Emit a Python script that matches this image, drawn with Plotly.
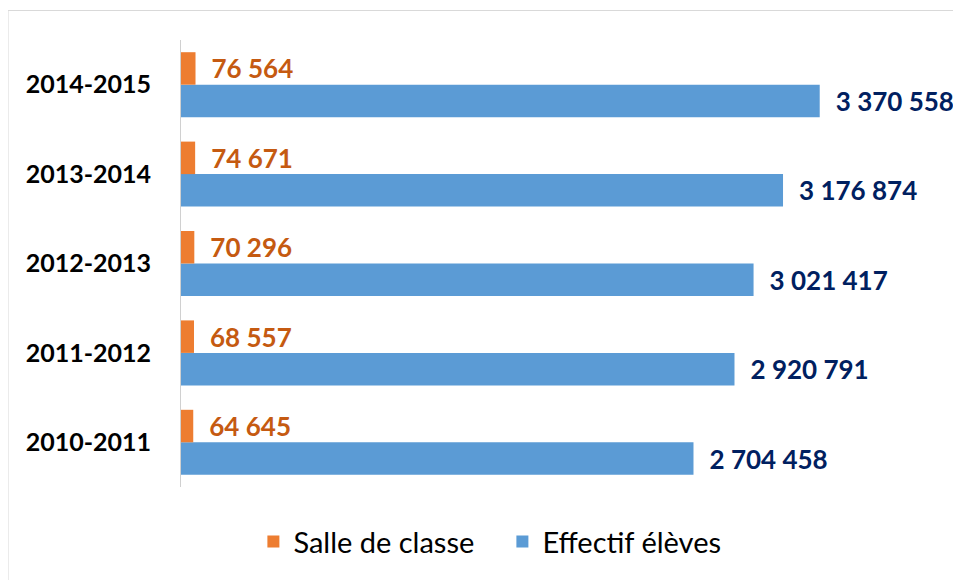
import plotly.graph_objects as go

categories = ["2010-2011", "2011-2012", "2012-2013", "2013-2014", "2014-2015"]
salles = [64645, 68557, 70296, 74671, 76564]
effectifs = [2704458, 2920791, 3021417, 3176874, 3370558]
series_names = ["Salle de classe", "Effectif élèves"]


def fmt(v):
    return "\u2002" + f"{v:,}".replace(",", " ")


FONT = "Lato"

fig = go.Figure()
fig.add_trace(go.Bar(
    y=categories, x=effectifs, orientation="h", name=series_names[1],
    marker=dict(color="#5B9BD5", line=dict(width=0)),
    text=[fmt(v) for v in effectifs], textposition="outside",
    textfont=dict(family=FONT, size=26, color="#002060", weight="bold"),
    constraintext="none", cliponaxis=False, legendrank=2,
    hoverinfo="skip",
))
fig.add_trace(go.Bar(
    y=categories, x=salles, orientation="h", name=series_names[0],
    marker=dict(color="#ED7D31", line=dict(width=0)),
    text=[fmt(v) for v in salles], textposition="outside",
    textfont=dict(family=FONT, size=26, color="#C55A11", weight="bold"),
    constraintext="none", cliponaxis=False, legendrank=1,
    hoverinfo="skip",
))

fig.update_layout(
    width=953, height=572,
    margin=dict(l=173, r=22, t=32, b=93),
    paper_bgcolor="white", plot_bgcolor="white",
    barmode="group", bargap=0.273, bargroupgap=0,
    font=dict(family=FONT, color="black"),
    xaxis=dict(range=[0, 4.0e6], showgrid=False, zeroline=False,
               showticklabels=False, showline=False, ticks=""),
    yaxis=dict(categoryorder="array", categoryarray=categories,
               showline=True, linecolor="#D0D0D0", linewidth=1,
               showgrid=False, ticks="", ticklabelstandoff=24,
               tickfont=dict(family=FONT, size=25, color="black", weight="bold")),
    legend=dict(orientation="h", x=0.424, xanchor="center", y=-0.122, yanchor="middle",
                font=dict(family=FONT, size=29, color="black"),
                entrywidth=204, bgcolor="rgba(0,0,0,0)"),
    shapes=[dict(type="rect", xref="paper", yref="paper",
                 x0=-0.2282, x1=1.5, y0=-0.6, y1=1.066,
                 line=dict(color="#D9D9D9", width=1), fillcolor="rgba(0,0,0,0)",
                 layer="below")],
)

fig.write_html("out.html")
